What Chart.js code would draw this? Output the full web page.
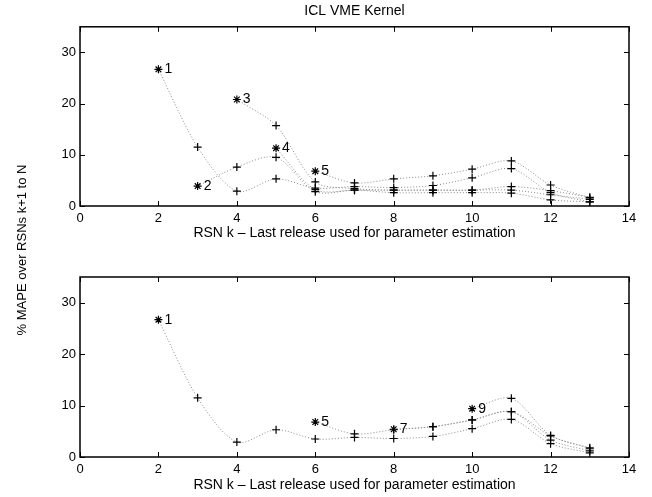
<!DOCTYPE html>
<html>
<head>
<meta charset="utf-8">
<script src="https://cdn.jsdelivr.net/npm/chart.js@4/dist/chart.umd.min.js"></script>
<style>
  body { margin: 0; background: #fff; }
  #wrap { position: relative; width: 652px; height: 497px; }
  #wrap canvas { position: absolute; left: 0; }
  #ylab {
    position: absolute; left: -78px; top: 242px; width: 200px; height: 16px;
    line-height: 16px; text-align: center; transform: rotate(-90deg);
    font: 13px 'Liberation Sans', Arial, sans-serif; white-space: nowrap; color: #000;
  }
</style>
</head>
<body>
<div id="wrap">
  <canvas id="top" width="652" height="248" style="top:0"></canvas>
  <canvas id="bottom" width="652" height="249" style="top:248px"></canvas>
  <div id="ylab">% MAPE over RSNs k+1 to N</div>
</div>
<script>
// RSN k values, series start at their own k (null = not present)
const rsn = [2, 3, 4, 5, 6, 7, 8, 9, 10, 11, 12, 13]

// top panel
const run1 = [26.7, 11.5, 2.9, 5.3, 3.5, 3.8, 3.6, 4.0, 5.5, 7.3, 2.6, 0.8]
const run2 = [null, 3.9, 7.6, 9.5, 2.8, 3.1, 2.6, 2.6, 2.6, 2.5, 1.2, 0.8]
const run3 = [null, null, 20.8, 15.7, 4.7, 3.4, 3.1, 3.1, 3.1, 3.1, 2.2, 1.3]
const run4 = [null, null, null, 11.3, 3.2, 3.1, 3.1, 3.1, 3.1, 3.8, 3.0, 1.7]
const run5 = [null, null, null, null, 6.8, 4.5, 5.3, 5.9, 7.2, 8.8, 4.1, 1.6]
// bottom panel extra runs
const run7 = [null, null, null, null, null, null, 5.4, 5.9, 7.2, 8.8, 3.3, 1.2]
const run9 = [null, null, null, null, null, null, null, null, 9.4, 11.4, 4.2, 1.8]

const xTicks = [0, 2, 4, 6, 8, 10, 12, 14]
const yTicks = [0, 10, 20, 30]

Chart.defaults.font.family = "'Liberation Sans', Arial, sans-serif"
Chart.defaults.font.size = 13
Chart.defaults.color = '#000'

const toPts = vals => rsn.map((k, i) => ({ x: k, y: vals[i] })).filter(p => p.y !== null)

const makeSet = (vals, tag) => ({
  data: toPts(vals),
  tag: tag,
  borderColor: '#8a8a8a',
  borderWidth: 1,
  borderDash: [1, 2],
  tension: 0.3,
  pointStyle: ctx => (ctx.dataIndex === 0 ? 'star' : 'cross'),
  pointRadius: 4,
  pointBorderColor: '#000',
  pointBorderWidth: 1.2,
  pointBackgroundColor: '#000',
})

// frame, inward ticks and run labels
const matlabAxes = {
  id: 'matlabAxes',
  afterDatasetsDraw(chart) {
    const { ctx, chartArea: a, scales } = chart
    ctx.save()
    ctx.strokeStyle = '#000'
    ctx.lineWidth = 1.5
    ctx.strokeRect(a.left, a.top, a.right - a.left, a.bottom - a.top)
    ctx.lineWidth = 1
    ctx.beginPath()
    xTicks.forEach(v => {
      const px = Math.round(scales.x.getPixelForValue(v)) + 0.5
      ctx.moveTo(px, a.bottom); ctx.lineTo(px, a.bottom - 5)
      ctx.moveTo(px, a.top); ctx.lineTo(px, a.top + 5)
    })
    yTicks.forEach(v => {
      const py = Math.round(scales.y.getPixelForValue(v)) + 0.5
      ctx.moveTo(a.left, py); ctx.lineTo(a.left + 5, py)
      ctx.moveTo(a.right, py); ctx.lineTo(a.right - 5, py)
    })
    ctx.stroke()
    ctx.font = "14px 'Liberation Sans', Arial, sans-serif"
    ctx.fillStyle = '#000'
    ctx.textBaseline = 'middle'
    chart.data.datasets.forEach((ds, i) => {
      const pt = chart.getDatasetMeta(i).data[0]
      if (ds.tag && pt) ctx.fillText(ds.tag, pt.x + 6, pt.y)
    })
    ctx.restore()
  },
}

const makeOptions = (title, axisH, padTop, titlePadBottom) => ({
  responsive: false,
  animation: false,
  layout: { padding: { top: padTop, right: 23, left: 0, bottom: 0 } },
  plugins: {
    legend: { display: false },
    tooltip: { enabled: false },
    title: {
      display: !!title,
      text: title,
      fullSize: false,
      font: { size: 14, weight: 'normal' },
      padding: { top: 3, bottom: 7 },
    },
  },
  scales: {
    x: {
      type: 'linear',
      min: 0,
      max: 14,
      afterBuildTicks: s => { s.ticks = xTicks.map(v => ({ value: v })) },
      afterFit: s => { s.height = axisH },
      grid: { display: false, drawTicks: false },
      border: { display: false },
      ticks: { padding: 5, maxRotation: 0 },
      title: {
        display: true,
        text: 'RSN k – Last release used for parameter estimation',
        font: { size: 14 },
        padding: { top: 0, bottom: titlePadBottom },
      },
    },
    y: {
      min: 0,
      max: 35,
      afterBuildTicks: s => { s.ticks = yTicks.map(v => ({ value: v })) },
      afterFit: s => { s.width = 80 },
      grid: { display: false, drawTicks: false },
      border: { display: false },
      ticks: { padding: 4 },
    },
  },
})

const topChart = new Chart(document.getElementById('top'), {
  type: 'line',
  data: {
    datasets: [
      makeSet(run1, '1'),
      makeSet(run2, '2'),
      makeSet(run3, '3'),
      makeSet(run4, '4'),
      makeSet(run5, '5'),
    ],
  },
  options: makeOptions('ICL VME Kernel', 42, 0, 6),
  plugins: [matlabAxes],
})

const bottomChart = new Chart(document.getElementById('bottom'), {
  type: 'line',
  data: {
    datasets: [
      makeSet(run1, '1'),
      makeSet(run5, '5'),
      makeSet(run7, '7'),
      makeSet(run9, '9'),
    ],
  },
  options: makeOptions('', 40, 29, 3),
  plugins: [matlabAxes],
})
</script>
</body>
</html>
